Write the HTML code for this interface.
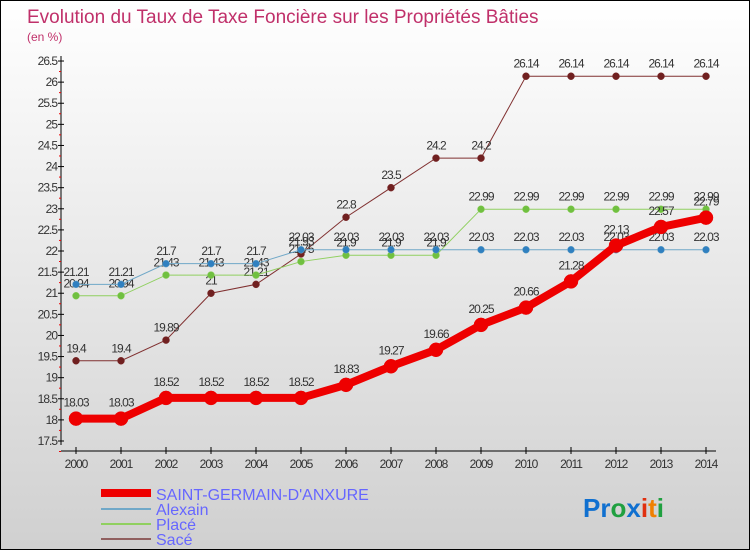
<!DOCTYPE html>
<html><head><meta charset="utf-8"><style>
body{margin:0}
#c{width:750px;height:550px;position:relative;box-sizing:border-box;border:1px solid #000;background:linear-gradient(#fff,#d0d0d0);font-family:"Liberation Sans",sans-serif;overflow:hidden}
</style></head><body>
<div id="c">
<svg id="s" width="750" height="550" style="position:absolute;left:0;top:0">
<text x="26" y="22" font-size="19" fill="#c0306a">Evolution du Taux de Taxe Foncière sur les Propriétés Bâties</text>
<text x="26" y="40" font-size="12" fill="#c0306a">(en %)</text>
<g id="ax"></g><g id="ser"></g>
<g>
<line x1="100" y1="492" x2="150" y2="492" stroke="#e00" stroke-width="8"/>
<text x="155" y="499" font-size="16" fill="#6666ff">SAINT-GERMAIN-D'ANXURE</text>
<line x1="100" y1="508" x2="150" y2="508" stroke="#70a8c8" stroke-width="2"/>
<text x="155" y="514" font-size="16" fill="#6666ff">Alexain</text>
<line x1="100" y1="523" x2="150" y2="523" stroke="#90d060" stroke-width="2"/>
<text x="155" y="529" font-size="16" fill="#6666ff">Placé</text>
<line x1="100" y1="538" x2="150" y2="538" stroke="#906060" stroke-width="2"/>
<text x="155" y="544" font-size="16" fill="#6666ff">Sacé</text>
</g>
<text x="582" y="516" font-size="26" font-weight="bold"><tspan fill="#1070d0">Pr</tspan><tspan fill="#20a040">o</tspan><tspan fill="#1070d0">x</tspan><tspan fill="#e03010">i</tspan><tspan fill="#f08000">t</tspan><tspan fill="#20a040">i</tspan></text>
</svg>
</div>
<script>
const years=[2000,2001,2002,2003,2004,2005,2006,2007,2008,2009,2010,2011,2012,2013,2014];
const sga=[18.03,18.03,18.52,18.52,18.52,18.52,18.83,19.27,19.66,20.25,20.66,21.28,22.13,22.57,22.79];
const alexain=[21.21,21.21,21.7,21.7,21.7,22.03,22.03,22.03,22.03,22.03,22.03,22.03,22.03,22.03,22.03];
const place=[20.94,20.94,21.43,21.43,21.43,21.75,21.9,21.9,21.9,22.99,22.99,22.99,22.99,22.99,22.99];
const sace=[19.4,19.4,19.89,21,21.21,21.93,22.8,23.5,24.2,24.2,26.14,26.14,26.14,26.14,26.14];
const yTicks=[17.5,18,18.5,19,19.5,20,20.5,21,21.5,22,22.5,23,23.5,24,24.5,25,25.5,26,26.5];
const NS="http://www.w3.org/2000/svg";
const X=i=>75+i*45, Y=v=>440-(v-17.5)*42.22;
function mk(t,a,p){const e=document.createElementNS(NS,t);for(const k in a)e.setAttribute(k,a[k]);p.appendChild(e);return e;}
const ax=document.getElementById('ax'), ser=document.getElementById('ser');
let l=mk('line',{x1:60,y1:55,x2:60,y2:444,stroke:'#000'},ax);


l=mk('line',{x1:60,y1:450,x2:715,y2:450,stroke:'#000'},ax);


yTicks.forEach(v=>{const y=Y(v);mk('line',{x1:57,y1:y,x2:63,y2:y,stroke:'#000'},ax);
mk('line',{x1:58,y1:y+10.5,x2:60,y2:y+10.5,stroke:'#e00'},ax);
const t=mk('text',{x:56,y:y+4,'font-size':12,'text-anchor':'end',fill:'#333','letter-spacing':'-1'},ax);t.textContent=v;

});
years.forEach((yr,i)=>{mk('line',{x1:X(i),y1:446,x2:X(i),y2:453,stroke:'#000'},ax);
const t=mk('text',{x:X(i),y:467,'font-size':12,'text-anchor':'middle',fill:'#333','letter-spacing':'-1'},ax);t.textContent=yr;

});
function series(d,name,col,w,r,pc){const g=mk('g',{},ser);


mk('polyline',{points:d.map((v,i)=>X(i)+','+Y(v)).join(' '),fill:'none',stroke:col,'stroke-width':w},g);
d.forEach((v,i)=>{const c=mk('circle',{cx:X(i),cy:Y(v),r:r,fill:pc,stroke:col,'stroke-width':0.5},g);


const t=mk('text',{x:X(i),y:Y(v)-r-5,'font-size':12,'text-anchor':'middle',fill:'#333','letter-spacing':'-1'},g);t.textContent=v;

});}
series(sace,'sace','#803030',1,3.5,'#702020');
series(place,'place','#90d060',1,3.5,'#70c040');
series(alexain,'alexain','#70a8c8',1,3.5,'#3080c0');
series(sga,'saint-germain','#e00',8,7,'#e00');
</script>
</body></html>
